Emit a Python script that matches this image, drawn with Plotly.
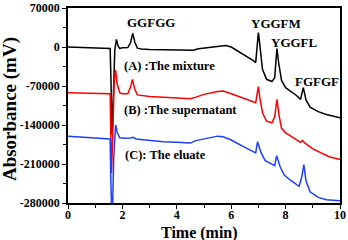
import plotly.graph_objects as go

# Time points (min) and absorbance values (mV)
t_a = [0, 0.5, 1.0, 1.5, 1.55, 1.58, 1.62, 1.66, 1.72, 1.78, 1.84, 1.9, 2.0, 2.2, 2.3, 2.38, 2.46, 2.55,
       2.7, 3.0, 3.5, 4.0, 4.5, 4.6, 4.8, 5.2, 5.6, 5.8, 6.0, 6.2, 6.5, 6.8, 6.9, 6.95, 7.0, 7.05, 7.15,
       7.3, 7.5, 7.6, 7.68, 7.75, 7.85, 8.0, 8.2, 8.4, 8.55, 8.65, 8.75, 8.9, 9.2, 9.5, 10.0]
v_a = [0, -600, -1200, -2000, -2500, -60000, -158000, -100000, -5000, 13600, 2000, -2500, -1500, -1000,
       8000, 24500, 8000, -2000, -3500, -4500, -5200, -5800, -6500, -6000, -3000, -1000, 1500, 2700, 0,
       -6000, -14000, -24000, -28000, 0, 26000, 5000, -40000, -58000, -62000, -55000, -2700, -30000,
       -60000, -73000, -80000, -87000, -94000, -73000, -95000, -108000, -116000, -121000, -127000]

t_b = [0, 0.5, 1.0, 1.5, 1.55, 1.57, 1.6, 1.65, 1.7, 1.75, 1.8, 1.9, 2.0, 2.2, 2.3, 2.37, 2.45, 2.55,
       3.0, 3.5, 4.0, 4.5, 4.7, 5.0, 5.5, 5.7, 6.0, 6.5, 6.9, 6.95, 7.0, 7.05, 7.15, 7.3, 7.5, 7.6, 7.68,
       7.75, 7.85, 8.0, 8.3, 8.55, 8.62, 8.7, 9.0, 9.3, 9.6, 10.0]
v_b = [-82000, -82500, -83500, -84500, -84000, -150000, -226000, -150000, -60000, -41500, -65000,
       -82000, -84000, -84000, -72000, -58000, -75000, -86000, -89000, -90000, -91000, -93000, -90000,
       -85000, -80000, -79000, -84000, -93000, -100000, -85000, -71000, -90000, -118000, -133000,
       -136000, -125000, -94000, -120000, -146000, -154000, -163000, -171000, -168000, -172000,
       -183000, -190000, -197000, -202000]

t_c = [0, 0.5, 1.0, 1.5, 1.55, 1.57, 1.6, 1.64, 1.68, 1.75, 1.82, 1.9, 2.1, 2.3, 2.4, 2.5, 3.0, 3.5,
       4.0, 4.5, 4.7, 5.0, 5.5, 5.7, 6.0, 6.5, 6.9, 6.97, 7.1, 7.25, 7.5, 7.6, 7.67, 7.8, 7.95, 8.2,
       8.5, 8.6, 8.67, 8.75, 8.9, 9.2, 9.5, 10.0]
v_c = [-160000, -161500, -163000, -165000, -165000, -230000, -285000, -285000, -200000, -140000,
       -155000, -163000, -164000, -163500, -162000, -165000, -168000, -170000, -171000, -172500,
       -168000, -165000, -160000, -161000, -167000, -180000, -190000, -170000, -190000, -204000,
       -210000, -213000, -195000, -215000, -230000, -240000, -250000, -232000, -211000, -240000,
       -260000, -270000, -274000, -276000]

peak_names = ["GGFGG", "YGGFM", "YGGFL", "FGFGF"]
peak_x = [3.05, 7.65, 8.31, 9.15]
peak_y = [43500, 42600, 8600, -61200]

trace_labels = ["(A) :The mixture", "(B) :The supernatant", "(C): The eluate"]
label_x = [3.73, 4.15, 3.58]
label_y = [-33500, -113000, -194000]

x_ticks = [0, 2, 4, 6, 8, 10]
y_ticks = [70000, 0, -70000, -140000, -210000, -280000]

FONT = "Liberation Serif"

fig = go.Figure()
for t, v, c in [(t_a, v_a, "black"), (t_b, v_b, "#ff0000"), (t_c, v_c, "#1f3fff")]:
    fig.add_trace(go.Scatter(x=t, y=v, mode="lines", line=dict(color=c, width=1.5),
                             showlegend=False, hoverinfo="skip"))

for name, x, y in zip(peak_names, peak_x, peak_y):
    fig.add_annotation(x=x, y=y, xref="x", yref="y", text=name, showarrow=False,
                       font=dict(family=FONT, size=13, color="black", weight="bold"))
for name, x, y in zip(trace_labels, label_x, label_y):
    fig.add_annotation(x=x, y=y, xref="x", yref="y", text=name, showarrow=False,
                       font=dict(family=FONT, size=12.5, color="black", weight="bold"))

fig.add_annotation(x=0.485, y=-0.155, xref="paper", yref="paper", text="Time (min)",
                   showarrow=False, yanchor="middle",
                   font=dict(family=FONT, size=16, color="black", weight="bold"))
fig.add_annotation(x=-0.213, y=0.482, xref="paper", yref="paper", text="Absorbance (mV)",
                   showarrow=False, textangle=-90, xanchor="center", yanchor="middle",
                   font=dict(family=FONT, size=19, color="black", weight="bold"))

fig.update_xaxes(range=[0, 10], tickvals=x_ticks, ticktext=[str(v) for v in x_ticks],
                 ticks="outside", ticklen=4, tickwidth=1.2, tickcolor="black",
                 ticklabelstandoff=-4,
                 minor=dict(dtick=1, ticks="outside", ticklen=3, tickcolor="black", tickwidth=1),
                 showline=True, linecolor="black", linewidth=1.5, mirror=True,
                 showgrid=False, zeroline=False, automargin=False,
                 tickfont=dict(family=FONT, size=12, color="black", weight="bold"))
fig.update_yaxes(range=[-280000, 70000], tickvals=y_ticks, ticktext=[str(v) for v in y_ticks],
                 ticks="outside", ticklen=4, tickwidth=1.2, tickcolor="black",
                 minor=dict(dtick=35000, ticks="outside", ticklen=3, tickcolor="black", tickwidth=1),
                 showline=True, linecolor="black", linewidth=1.5, mirror=True,
                 showgrid=False, zeroline=False, automargin=False,
                 tickfont=dict(family=FONT, size=12, color="black", weight="bold"))

fig.update_layout(width=348, height=240, margin=dict(l=68, r=8, t=8, b=37, autoexpand=False),
                  paper_bgcolor="white", plot_bgcolor="white")

fig.write_html("out.html", config={"displayModeBar": False},
               post_script="document.body.style.margin='0';document.body.style.padding='0';")
